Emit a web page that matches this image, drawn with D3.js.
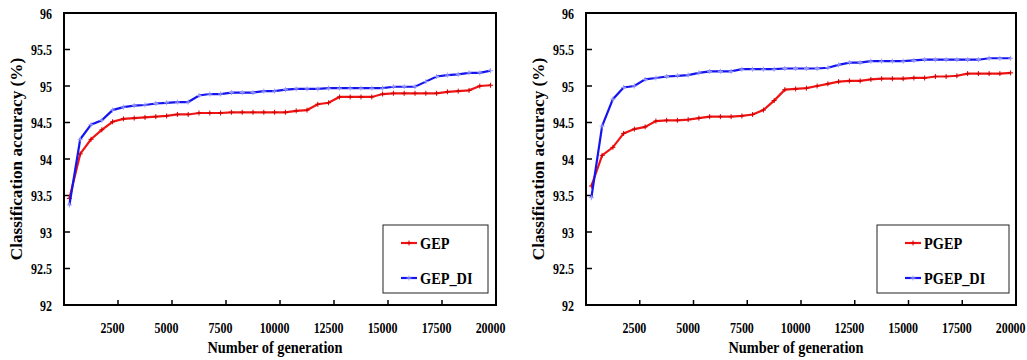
<!DOCTYPE html>
<html>
<head>
<meta charset="utf-8">
<script src="https://cdn.jsdelivr.net/npm/d3@7/dist/d3.min.js"></script>
<style>
  body { margin: 0; background: #fff; }
  text { font-family: "Liberation Serif", "Times New Roman", serif; font-weight: bold; fill: #000; }
</style>
</head>
<body>
<div id="graph"></div>
<script>
// generations (one point every 500)
const gens = [500, 1000, 1500, 2000, 2500, 3000, 3500, 4000, 4500, 5000,
              5500, 6000, 6500, 7000, 7500, 8000, 8500, 9000, 9500, 10000,
              10500, 11000, 11500, 12000, 12500, 13000, 13500, 14000, 14500, 15000,
              15500, 16000, 16500, 17000, 17500, 18000, 18500, 19000, 19500, 20000];

const gepAcc = [93.46, 94.07, 94.27, 94.40, 94.51, 94.55, 94.56, 94.57, 94.58, 94.59,
                94.61, 94.61, 94.63, 94.63, 94.63, 94.64, 94.64, 94.64, 94.64, 94.64,
                94.64, 94.66, 94.67, 94.75, 94.77, 94.85, 94.85, 94.85, 94.85, 94.89,
                94.90, 94.90, 94.90, 94.90, 94.90, 94.92, 94.93, 94.94, 95.00, 95.01];

const gepDiAcc = [93.37, 94.27, 94.47, 94.53, 94.67, 94.71, 94.73, 94.74, 94.76, 94.77,
                  94.78, 94.78, 94.87, 94.89, 94.89, 94.91, 94.91, 94.91, 94.93, 94.93,
                  94.95, 94.96, 94.96, 94.96, 94.97, 94.97, 94.97, 94.97, 94.97, 94.97,
                  94.99, 94.99, 94.99, 95.06, 95.13, 95.15, 95.16, 95.18, 95.18, 95.21];

const pgepAcc = [93.63, 94.05, 94.16, 94.35, 94.41, 94.44, 94.52, 94.53, 94.53, 94.54,
                 94.56, 94.58, 94.58, 94.58, 94.59, 94.61, 94.67, 94.80, 94.95, 94.96,
                 94.97, 95.00, 95.03, 95.06, 95.07, 95.07, 95.09, 95.10, 95.10, 95.10,
                 95.11, 95.11, 95.13, 95.13, 95.14, 95.17, 95.17, 95.17, 95.17, 95.18];

const pgepDiAcc = [93.47, 94.45, 94.82, 94.98, 95.00, 95.09, 95.11, 95.13, 95.14, 95.15,
                   95.18, 95.20, 95.20, 95.20, 95.23, 95.23, 95.23, 95.23, 95.24, 95.24,
                   95.24, 95.24, 95.25, 95.29, 95.32, 95.32, 95.34, 95.34, 95.34, 95.34,
                   95.35, 95.36, 95.36, 95.36, 95.36, 95.36, 95.36, 95.38, 95.38, 95.38];

const yTicks = [92, 92.5, 93, 93.5, 94, 94.5, 95, 95.5, 96];
const xTickLabels = [2500, 5000, 7500, 10000, 12500, 15000, 17500, 20000];

const w = 1027, h = 360;
const squeeze = 0.81;   // the original font is narrow

const vis = d3.select("#graph").append("svg")
    .attr("width", w)
    .attr("height", h);

function drawChart(cfg) {
  const top = 13, bottom = 305;

  const x = d3.scaleBand().domain(gens).range([cfg.left, cfg.right]);
  const y = d3.scaleLinear().domain([92, 96]).range([bottom, top]);
  const bw = x.bandwidth();
  const cx = g => x(g) + bw / 2;

  const g = vis.append("g");

  // y axis labels
  const yAxis = g.append("g")
      .attr("transform", "translate(" + cfg.left + ",0)")
      .call(d3.axisLeft(y).tickValues(yTicks).tickSize(0).tickFormat(d3.format("")));
  yAxis.select(".domain").remove();
  yAxis.selectAll("text")
      .attr("x", 0).attr("y", 0).attr("dy", null)
      .attr("font-size", "14.8px")
      .attr("font-family", null)
      .attr("transform", "translate(-12,5) scale(" + squeeze + ",1)");

  // inward y ticks
  g.selectAll(".ytick")
      .data(yTicks)
      .enter()
      .append("line")
      .attr("x1", cfg.left).attr("x2", cfg.left + 6)
      .attr("y1", d => y(d)).attr("y2", d => y(d))
      .style("stroke", "#000").style("stroke-width", 1.5);

  // x axis labels, centred on their category
  const xAxis = g.append("g")
      .attr("transform", "translate(0," + bottom + ")")
      .call(d3.axisBottom(x).tickValues(xTickLabels).tickSize(0));
  xAxis.select(".domain").remove();
  xAxis.selectAll("text")
      .attr("x", 0).attr("y", 0).attr("dy", null)
      .attr("font-size", "14.8px")
      .attr("font-family", null)
      .attr("transform", "translate(0,28) scale(" + squeeze + ",1)");

  // x tick marks sit between categories
  g.selectAll(".xtick")
      .data(xTickLabels)
      .enter()
      .append("line")
      .attr("x1", d => x(d) + bw).attr("x2", d => x(d) + bw)
      .attr("y1", bottom).attr("y2", bottom - 5)
      .style("stroke", "#000").style("stroke-width", 1.5);

  // frame
  g.append("rect")
      .attr("x", cfg.left).attr("y", top)
      .attr("width", cfg.right - cfg.left).attr("height", bottom - top)
      .style("fill", "none").style("stroke", "#000").style("stroke-width", 2);

  // axis titles
  g.append("text")
      .attr("transform", "translate(" + ((cfg.left + cfg.right) / 2 - 5) + ",353) scale(" + squeeze + ",1)")
      .attr("text-anchor", "middle")
      .attr("font-size", "17.7px")
      .text("Number of generation");

  g.append("text")
      .attr("transform", "translate(" + cfg.titleX + "," + ((top + bottom) / 2) + ") rotate(-90)")
      .attr("text-anchor", "middle")
      .attr("font-size", "17.2px")
      .text("Classification accuracy (%)");

  // series
  const line = d3.line()
      .x(d => cx(d.gen))
      .y(d => y(d.acc));

  const cross = "M-2.5,0H2.5M0,-2.5V2.5";

  cfg.series.forEach(s => {
    const pts = gens.map((gen, i) => ({gen: gen, acc: s.values[i]}));
    g.append("path")
        .datum(pts)
        .attr("d", line)
        .style("fill", "none")
        .style("stroke", s.color)
        .style("stroke-width", 2.2);
    g.selectAll(null)
        .data(pts)
        .enter()
        .append("path")
        .attr("d", cross)
        .attr("transform", d => "translate(" + cx(d.gen) + "," + y(d.acc) + ")")
        .style("stroke", s.marker)
        .style("stroke-width", 1);
  });

  // legend
  const lg = g.append("g");
  lg.append("rect")
      .attr("x", cfg.legend.x).attr("y", 225)
      .attr("width", cfg.legend.w).attr("height", 68)
      .style("fill", "#fff").style("stroke", "#222").style("stroke-width", 1);

  cfg.series.forEach((s, i) => {
    const ly = 243 + i * 35;
    const lx = cfg.legend.x + cfg.legend.pad;
    lg.append("line")
        .attr("x1", lx).attr("x2", lx + 16)
        .attr("y1", ly).attr("y2", ly)
        .style("stroke", s.color).style("stroke-width", 2.2);
    lg.append("path")
        .attr("d", cross)
        .attr("transform", "translate(" + (lx + 8) + "," + ly + ")")
        .style("stroke", s.marker).style("stroke-width", 1);
    lg.append("text")
        .attr("transform", "translate(" + (lx + 19) + "," + (ly + 6) + ") scale(" + squeeze + ",1)")
        .attr("font-size", "17.7px")
        .text(s.name);
  });
}

drawChart({
  left: 64, right: 496, titleX: 22,
  legend: {x: 383, w: 105, pad: 18},
  series: [
    {name: "GEP", values: gepAcc, color: "#f01414", marker: "#d00000"},
    {name: "GEP_DI", values: gepDiAcc, color: "#1414f0", marker: "#9a9aff"}
  ]
});

drawChart({
  left: 586, right: 1016, titleX: 544,
  legend: {x: 877, w: 132, pad: 28},
  series: [
    {name: "PGEP", values: pgepAcc, color: "#f01414", marker: "#d00000"},
    {name: "PGEP_DI", values: pgepDiAcc, color: "#1414f0", marker: "#9a9aff"}
  ]
});
</script>
</body>
</html>
